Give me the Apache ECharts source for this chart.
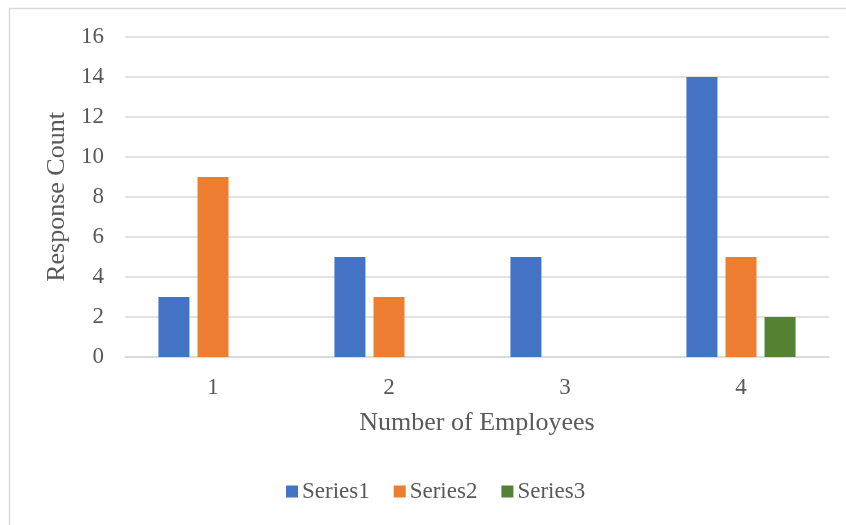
<!DOCTYPE html>
<html>
<head>
<meta charset="utf-8">
<script src="https://cdn.jsdelivr.net/npm/echarts@6/dist/echarts.min.js"></script>
<style>
  html, body { margin: 0; padding: 0; background: #fff; }
  #chart { width: 846px; height: 525px; }
</style>
</head>
<body>
<div id="chart"></div>
<script>
// Survey responses grouped by number of employees
const categories = ['1', '2', '3', '4'];
const series1 = [3, 5, 5, 14];
const series2 = [9, 3, 0, 5];
const series3 = [0, 0, 0, 2];
const seriesNames = ['Series1', 'Series2', 'Series3'];
const yTicks = { min: 0, max: 16, interval: 2 };

const FONT = '"Liberation Serif", "Times New Roman", serif';
const TEXT = '#595959';
const GRID = '#d9d9d9';
const colors = ['#4472c4', '#ed7d31', '#548235'];

const chart = echarts.init(document.getElementById('chart'), null, { renderer: 'canvas' });

const mkBar = (name, data, color) => ({
  name: name,
  type: 'bar',
  data: data,
  barWidth: 31,
  barGap: '26%',
  itemStyle: { color: color },
  emphasis: { disabled: true }
});

chart.setOption({
  animation: false,
  textStyle: { fontFamily: FONT },
  graphic: [{
    type: 'rect',
    shape: { x: 9.5, y: 8.5, width: 860, height: 540 },
    style: { fill: 'none', stroke: GRID, lineWidth: 1.5 },
    silent: true
  }],
  grid: { left: 125, right: 17, top: 37, bottom: 168, containLabel: false },
  legend: {
    data: seriesNames,
    top: 480,
    left: 286,
    padding: 0,
    itemWidth: 12,
    itemHeight: 12,
    itemGap: 24,
    icon: 'rect',
    textStyle: { fontFamily: FONT, fontSize: 23, color: TEXT, padding: [0, 0, 0, -1] }
  },
  xAxis: {
    type: 'category',
    data: categories,
    name: 'Number of Employees',
    nameLocation: 'middle',
    nameGap: 53,
    nameTextStyle: { fontFamily: FONT, fontSize: 26, color: TEXT },
    axisLine: { show: true, lineStyle: { color: GRID, width: 1.5 } },
    axisTick: { show: false },
    axisLabel: { fontFamily: FONT, fontSize: 23, color: TEXT, margin: 19 }
  },
  yAxis: {
    type: 'value',
    min: yTicks.min,
    max: yTicks.max,
    interval: yTicks.interval,
    name: 'Response Count',
    nameLocation: 'middle',
    nameGap: 54,
    nameTextStyle: { fontFamily: FONT, fontSize: 26, color: TEXT },
    axisLine: { show: false },
    axisTick: { show: false },
    axisLabel: { fontFamily: FONT, fontSize: 23, color: TEXT, margin: 21 },
    splitLine: { lineStyle: { color: GRID, width: 1.5 } }
  },
  series: [
    mkBar(seriesNames[0], series1, colors[0]),
    mkBar(seriesNames[1], series2, colors[1]),
    mkBar(seriesNames[2], series3, colors[2])
  ]
});
</script>
</body>
</html>
